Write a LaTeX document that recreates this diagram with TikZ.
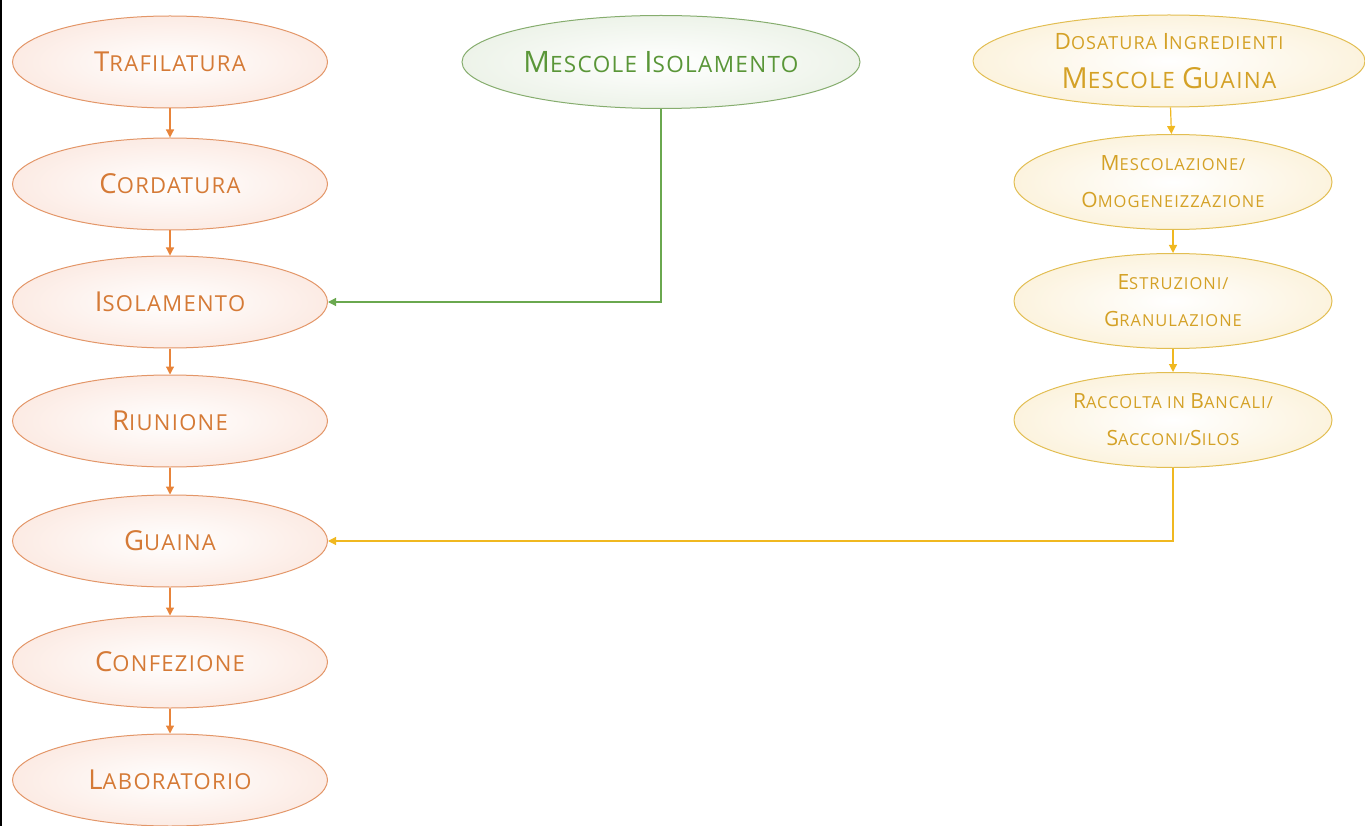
\documentclass[tikz,border=0pt]{standalone}
\usepackage{fontspec}
\setmainfont{Open Sans}[LetterSpace=6]
\usetikzlibrary{shapes.geometric,arrows.meta}
\definecolor{orst}{HTML}{E39668}
\definecolor{ortx}{HTML}{D57A36}
\definecolor{orar}{HTML}{E8843A}
\definecolor{orfl}{HTML}{FCEBE4}
\definecolor{grst}{HTML}{86AD6E}
\definecolor{grtx}{HTML}{5A9638}
\definecolor{grar}{HTML}{6AA84F}
\definecolor{grfl}{HTML}{EDF3E9}
\definecolor{yest}{HTML}{E2BE52}
\definecolor{yetx}{HTML}{D4A126}
\definecolor{year}{HTML}{F0B820}
\definecolor{yefl}{HTML}{FCF3DE}
% orange labels
\newcommand\capbig[1]{{\fontsize{27.5}{30}\selectfont #1}}
\newcommand\capsml[1]{{\fontsize{22}{30}\selectfont #1}}
% green label
\newcommand\capbigG[1]{{\fontsize{29.5}{30}\selectfont #1}}
\newcommand\capsmlG[1]{{\fontsize{22.5}{30}\selectfont #1}}
% yellow two-line labels
\newcommand\capbigB[1]{{\fontsize{21}{37}\selectfont #1}}
\newcommand\capsmlB[1]{{\fontsize{16.5}{37}\selectfont #1}}
% yellow title
\newcommand\capbigC[1]{{\fontsize{22.5}{39}\selectfont #1}}
\newcommand\capsmlC[1]{{\fontsize{18}{39}\selectfont #1}}
\newcommand\capbigD[1]{{\fontsize{29}{39}\selectfont #1}}
\newcommand\capsmlD[1]{{\fontsize{22.5}{39}\selectfont #1}}
\tikzset{
  x=1pt,y=-1pt,
  proc/.style={ellipse,draw=orst,line width=1pt,inner sep=0pt,
    inner color=white,outer color=orfl,
    minimum width=315pt,minimum height=92pt,text=ortx,align=center,
    font=\fontsize{20}{30}\selectfont},
  gproc/.style={proc,draw=grst,outer color=grfl,text=grtx,minimum width=398pt,minimum height=93pt},
  yproc/.style={proc,draw=yest,outer color=yefl,text=yetx,minimum width=318pt,minimum height=95pt,
    font=\fontsize{16.5}{37}\selectfont},
  ytop/.style={yproc,minimum width=392pt,minimum height=92pt,font=\fontsize{17}{39}\selectfont},
  oarr/.style={draw=orar,line width=1.2pt,-{Triangle[width=8pt,length=8pt]}},
  garr/.style={draw=grar,line width=1.2pt,-{Triangle[width=8pt,length=8pt]}},
  yarr/.style={draw=year,line width=1.2pt,-{Triangle[width=8pt,length=8pt]}},
}
\begin{document}
\begin{tikzpicture}
\useasboundingbox (0,0) rectangle (1365,826);
\draw[black,line width=1.6pt] (0.8,0) -- (0.8,826);
% left column
\node[proc] (traf) at (170,62) {\capbig{T}\capsml{RAFILATURA}};
\node[proc] (cord) at (170,184) {\capbig{C}\capsml{ORDATURA}};
\node[proc] (isol) at (170,302) {\capbig{I}\capsml{SOLAMENTO}};
\node[proc] (riun) at (170,421) {\capbig{R}\capsml{IUNIONE}};
\node[proc] (guai) at (170,541) {\capbig{G}\capsml{UAINA}};
\node[proc] (conf) at (170,662) {\capbig{C}\capsml{ONFEZIONE}};
\node[proc] (labo) at (170,780) {\capbig{L}\capsml{ABORATORIO}};
\draw[oarr] (traf) -- (cord);
\draw[oarr] (cord) -- (isol);
\draw[oarr] (isol) -- (riun);
\draw[oarr] (riun) -- (guai);
\draw[oarr] (guai) -- (conf);
\draw[oarr] (conf) -- (labo);
% middle
\node[gproc] (mesi) at (661,62) {\capbigG{M}\capsmlG{ESCOLE }\capbigG{I}\capsmlG{SOLAMENTO}};
\draw[garr] (mesi.south) |- (isol.east);
% right column
\node[ytop] (dosa) at (1169,61) {\capbigC{D}\capsmlC{OSATURA }\capbigC{I}\capsmlC{NGREDIENTI}\\\capbigD{M}\capsmlD{ESCOLE }\capbigD{G}\capsmlD{UAINA}};
\node[yproc] (mesc) at (1173,182) {\capbigB{M}\capsmlB{ESCOLAZIONE/}\\\capbigB{O}\capsmlB{MOGENEIZZAZIONE}};
\node[yproc] (estr) at (1173,301) {\capbigB{E}\capsmlB{STRUZIONI/}\\\capbigB{G}\capsmlB{RANULAZIONE}};
\node[yproc] (racc) at (1173,420) {\capbigB{R}\capsmlB{ACCOLTA IN }\capbigB{B}\capsmlB{ANCALI/}\\\capbigB{S}\capsmlB{ACCONI/}\capbigB{S}\capsmlB{ILOS}};
\draw[yarr] (dosa) -- (mesc);
\draw[yarr] (mesc) -- (estr);
\draw[yarr] (estr) -- (racc);
\draw[yarr] (racc.south) |- (guai.east);
\end{tikzpicture}
\end{document}
